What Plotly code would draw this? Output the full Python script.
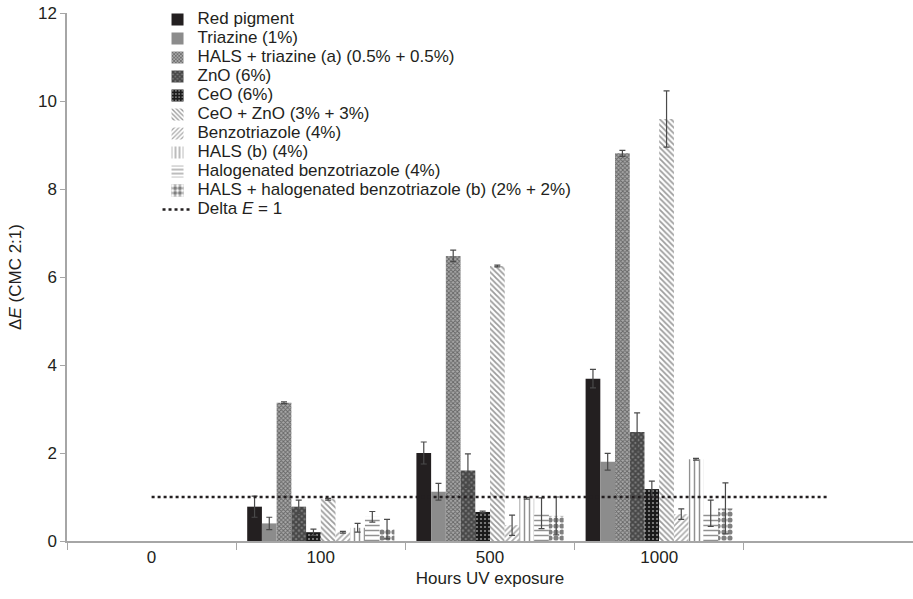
import plotly.graph_objects as go

# Categories (hours of UV exposure); last category is an empty slot on the axis
hours = ["0", "100", "500", "1000", ""]

series_names = [
    "Red pigment",
    "Triazine (1%)",
    "HALS + triazine (a) (0.5% + 0.5%)",
    "ZnO (6%)",
    "CeO (6%)",
    "CeO + ZnO (3% + 3%)",
    "Benzotriazole (4%)",
    "HALS (b) (4%)",
    "Halogenated benzotriazole (4%)",
    "HALS + halogenated benzotriazole (b) (2% + 2%)",
]
line_name = "Delta <i>E</i> = 1"

# Values for hours 0, 100, 500, 1000 (no bars at 0 h)
red_pigment = [None, 0.78, 2.00, 3.69]
triazine = [None, 0.40, 1.12, 1.80]
hals_triazine = [None, 3.14, 6.48, 8.81]
zno = [None, 0.78, 1.60, 2.48]
ceo = [None, 0.20, 0.66, 1.18]
ceo_zno = [None, 0.95, 6.25, 9.59]
benzotriazole = [None, 0.20, 0.36, 0.61]
hals_b = [None, 0.30, 0.97, 1.86]
halo_benzotriazole = [None, 0.55, 0.63, 0.63]
hals_halo = [None, 0.27, 0.57, 0.74]

red_pigment_err = [None, 0.24, 0.25, 0.21]
triazine_err = [None, 0.14, 0.19, 0.19]
hals_triazine_err = [None, 0.02, 0.13, 0.07]
zno_err = [None, 0.15, 0.38, 0.43]
ceo_err = [None, 0.07, 0.02, 0.18]
ceo_zno_err = [None, 0.02, 0.02, 0.64]
benzotriazole_err = [None, 0.02, 0.23, 0.12]
hals_b_err = [None, 0.10, 0.02, 0.02]
halo_benzotriazole_err = [None, 0.12, 0.35, 0.30]
hals_halo_err = [None, 0.22, 0.43, 0.58]

delta_e = [1, 1, 1, 1, 1]

series_values = [red_pigment, triazine, hals_triazine, zno, ceo, ceo_zno,
                 benzotriazole, hals_b, halo_benzotriazole, hals_halo]
series_errors = [red_pigment_err, triazine_err, hals_triazine_err, zno_err, ceo_err,
                 ceo_zno_err, benzotriazole_err, hals_b_err, halo_benzotriazole_err,
                 hals_halo_err]

TXT = "#231f20"
AX = "#a6a6a6"
LEG_SPAN = '<span style="font-size:17px">{}</span>'

styles = [
    dict(color="#231f20"),
    dict(color="#8c8c8c"),
    dict(color="#9a9a9a", pattern=dict(shape="x", fgcolor="#222222", bgcolor="#a8a8a8", size=3, solidity=0.5)),
    dict(color="#333333", pattern=dict(shape="x", fgcolor="#111111", bgcolor="#7a7a7a", size=4, solidity=0.7)),
    dict(color="#1a1a1a", pattern=dict(shape=".", fgcolor="#ffffff", bgcolor="#1a1a1a", size=4, solidity=0.22)),
    dict(color="#ffffff", pattern=dict(shape="\\", fgcolor="#3a3a3a", bgcolor="#ffffff", size=4, solidity=0.45)),
    dict(color="#ffffff", pattern=dict(shape="/", fgcolor="#555555", bgcolor="#ffffff", size=4, solidity=0.4)),
    dict(color="#ffffff", pattern=dict(shape="|", fgcolor="#222222", bgcolor="#ffffff", size=5, solidity=0.3)),
    dict(color="#ffffff", pattern=dict(shape="-", fgcolor="#222222", bgcolor="#ffffff", size=5, solidity=0.3)),
    dict(color="#ffffff", pattern=dict(shape=".", fgcolor="#000000", bgcolor="#ffffff", size=6, solidity=0.6)),
]

x_pos = list(range(len(hours)))

fig = go.Figure()
for name, vals, errs, st in zip(series_names, series_values, series_errors, styles):
    fig.add_trace(go.Bar(
        x=x_pos[:len(vals)], y=vals, name=LEG_SPAN.format(name),
        marker=dict(line=dict(width=0), **st),
        error_y=dict(type="data", array=errs, symmetric=True, color="#4a4a4a",
                     thickness=1.2, width=3),
    ))

fig.add_trace(go.Scatter(
    x=x_pos, y=delta_e, mode="lines", name=LEG_SPAN.format(line_name),
    line=dict(color=TXT, width=2.5, dash="dot"),
))

fig.update_layout(
    width=913, height=599,
    margin=dict(l=67, r=0, t=13, b=58, autoexpand=False),
    paper_bgcolor="white", plot_bgcolor="white",
    font=dict(family="Liberation Sans, Arial, sans-serif", color=TXT, size=17),
    barmode="group", bargap=0.13, bargroupgap=0,
    showlegend=True,
    legend=dict(x=0.107, y=1.015, xanchor="left", yanchor="top",
                bgcolor="rgba(0,0,0,0)", font=dict(size=12, color=TXT),
                tracegroupgap=0),
)
fig.update_xaxes(
    range=[-0.5, 4.5], tickmode="array", tickvals=x_pos, ticktext=hours,
    ticks="", showline=True, linecolor=AX, linewidth=1.5, showgrid=False,
    zeroline=False, automargin=False,
    minor=dict(tickmode="linear", tick0=0.5, dtick=1, ticks="outside",
               ticklen=7, tickcolor=AX, tickwidth=1.2),
    title=dict(text="Hours UV exposure", standoff=6, font=dict(size=17)),
    tickfont=dict(size=17),
)
fig.update_yaxes(
    range=[0, 12], dtick=2, ticks="outside", ticklen=5, tickcolor=AX,
    showline=True, linecolor=AX, linewidth=1.5, showgrid=False, zeroline=False,
    automargin=False,
    title=dict(text="Δ<i>E</i> (CMC 2:1)", standoff=12, font=dict(size=17)),
    tickfont=dict(size=17),
)

fig.write_html("out.html", config={"displayModeBar": False},
               post_script="document.body.style.margin='0px';")
